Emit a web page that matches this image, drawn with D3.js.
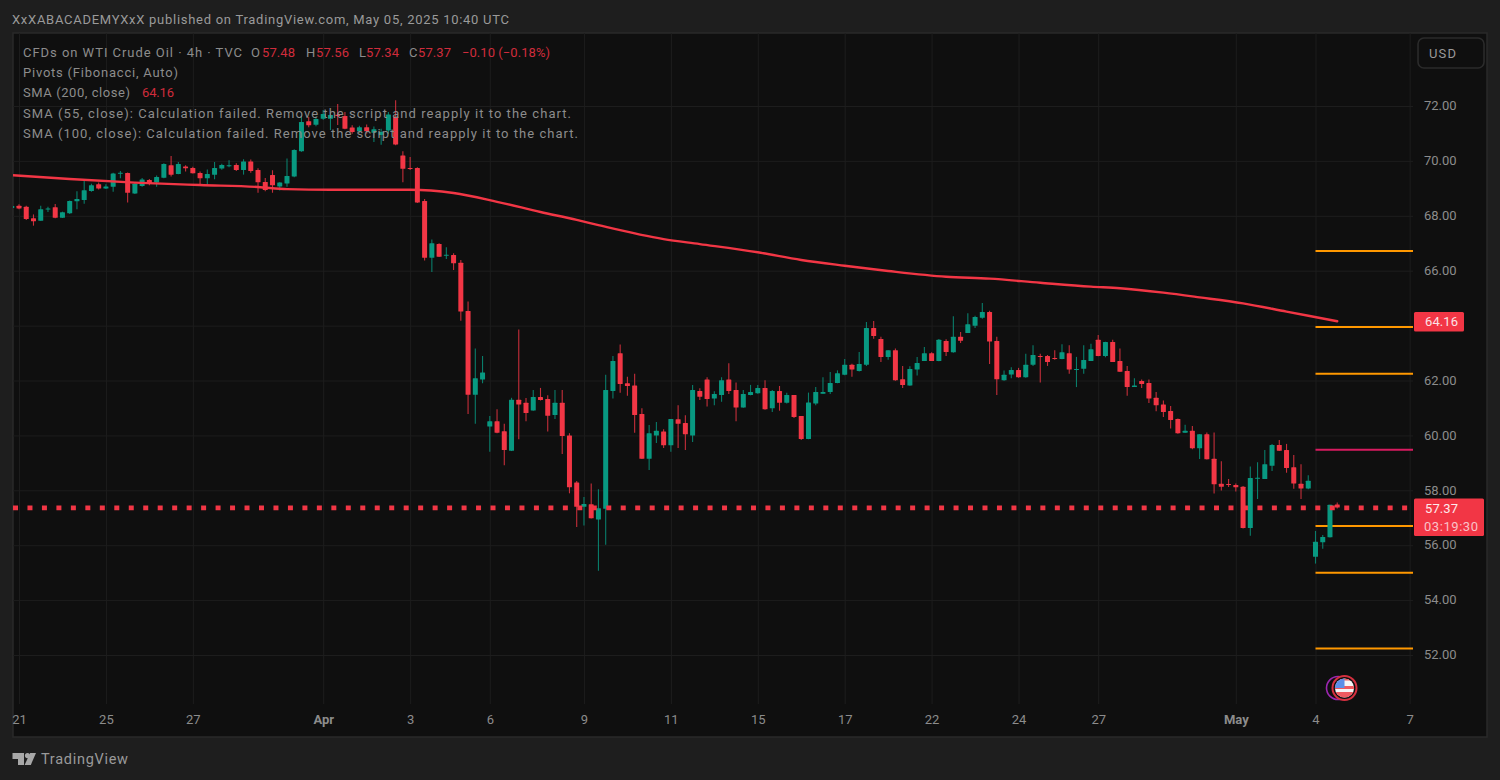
<!DOCTYPE html>
<html><head><meta charset="utf-8">
<script src="https://d3js.org/d3.v7.min.js"></script>
<style>html,body{margin:0;padding:0;background:#1e1e1e;overflow:hidden}svg{display:block}text{font-family:Roboto,"Liberation Sans",sans-serif}</style>
</head><body><div id="chart"></div>
<script>
// Bars run in order; the first bar is only partly visible at the left edge.
const opens=[68.28,
68.37,68.33,67.91,67.82,68.24,68.31,67.93,68.09,68.53,
68.58,68.90,69.15,68.99,69.06,69.55,69.56,68.81,69.09,69.30,
69.21,69.39,69.84,69.52,69.80,69.74,69.56,69.37,69.50,69.72,
69.81,69.85,69.67,69.98,69.67,69.23,69.49,69.07,69.18,69.43,
70.35,71.44,71.32,71.54,71.54,71.68,71.64,71.22,71.08,71.23,
71.03,70.94,71.11,71.60,70.20,69.74,69.74,68.54,66.47,66.97,
66.56,66.57,66.29,64.53,61.48,62.04,60.32,60.52,60.15,59.44,
61.30,61.19,60.91,61.40,61.33,60.74,61.19,60.00,58.28,57.40,
57.49,56.94,57.33,61.62,62.99,61.90,61.82,60.78,59.15,60.00,
60.14,59.64,60.59,60.45,60.00,61.62,62.04,61.34,61.47,62.04,
61.65,61.02,61.47,61.54,61.73,60.99,61.62,61.19,61.47,60.71,
59.87,61.16,61.52,61.58,61.91,62.21,62.57,62.35,62.57,63.91,
63.51,62.86,63.10,62.05,61.82,62.40,62.71,62.99,62.71,63.44,
63.03,63.59,63.73,63.99,64.29,64.50,63.44,62.01,62.22,62.38,
62.12,62.57,62.89,62.89,62.82,62.78,62.99,62.38,62.43,62.71,
63.48,62.89,63.40,62.71,62.35,61.76,61.98,61.91,61.37,61.13,
60.89,60.60,60.10,60.17,59.53,60.04,59.15,58.24,58.23,58.19,
58.13,56.63,58.42,58.41,58.89,59.65,59.47,58.84,58.24,58.07,
55.58,56.11,56.29,57.48];
const highs=[68.39,
68.42,68.37,68.05,68.37,68.33,68.43,68.15,68.56,68.89,
69.28,69.17,69.21,69.15,69.57,69.63,69.58,69.21,69.38,69.34,
69.47,69.91,70.18,69.96,69.84,69.79,69.61,69.69,69.96,69.90,
70.02,69.91,70.06,70.05,69.73,69.38,69.66,69.22,70.09,70.42,
71.65,71.60,71.62,71.85,71.79,72.07,71.78,71.30,71.28,71.33,
71.25,71.17,71.78,72.21,70.35,70.14,69.77,68.61,67.14,67.00,
66.85,66.64,66.39,64.88,63.17,62.89,60.71,60.95,60.42,61.37,
63.86,61.36,61.65,61.73,61.46,61.65,61.65,60.08,58.34,57.76,
58.25,58.04,62.21,62.89,63.31,62.14,62.25,60.99,60.38,60.49,
60.22,60.60,61.10,60.73,61.84,61.72,62.12,61.61,62.12,62.63,
61.93,61.65,61.84,61.84,62.01,61.65,61.80,61.55,61.47,60.71,
61.56,61.76,62.12,62.31,62.37,62.78,62.61,63.04,64.13,64.17,
63.59,63.10,63.17,62.53,62.52,62.86,63.22,63.03,63.51,63.50,
64.34,63.77,64.45,64.36,64.82,64.54,63.59,62.36,62.48,62.46,
62.97,63.28,62.97,62.93,63.10,63.32,63.28,62.86,63.28,63.34,
63.66,63.41,63.48,63.17,62.53,62.08,62.04,62.04,61.58,61.27,
61.07,60.62,60.39,60.34,60.04,60.11,60.11,59.06,58.41,58.25,
58.16,58.87,59.02,59.47,59.69,59.83,59.69,59.29,58.95,58.55,
56.52,56.37,57.47,57.56];
const lows=[68.26,
68.24,67.85,67.64,67.82,68.14,67.91,67.92,68.07,68.24,
68.44,68.88,68.96,68.98,68.88,69.37,68.48,68.79,69.06,69.11,
69.06,69.37,69.43,69.51,69.61,69.54,69.16,69.12,69.33,69.68,
69.77,69.63,69.50,69.57,68.84,68.89,68.84,68.92,69.06,69.40,
70.33,71.23,71.26,71.50,71.13,71.31,71.15,70.99,71.03,70.99,
70.69,70.59,70.99,70.57,69.22,69.67,68.47,66.37,65.95,66.50,
66.43,66.03,64.18,60.78,60.42,61.90,59.40,60.08,58.91,59.43,
59.86,60.52,60.90,61.27,60.14,60.60,59.32,57.89,56.66,56.72,
56.97,55.07,56.02,61.34,61.55,61.44,60.10,59.14,58.74,59.72,
59.54,59.40,59.54,59.47,59.76,61.29,61.05,61.10,61.23,61.51,
60.52,61.01,61.46,61.52,60.93,60.85,60.90,61.16,60.63,59.83,
59.86,61.10,61.52,61.51,61.90,62.19,62.14,62.33,62.53,63.52,
62.67,62.76,61.99,61.73,61.81,62.18,62.71,62.71,62.70,62.89,
63.01,63.37,63.73,63.91,64.25,62.60,61.47,61.99,62.08,62.10,
62.10,62.53,61.93,62.53,62.76,62.77,62.25,61.76,62.25,62.71,
62.88,62.85,62.67,62.31,61.44,61.76,61.73,61.18,60.88,60.67,
60.25,60.06,60.10,59.50,59.14,59.12,57.88,57.99,58.12,57.96,
56.61,56.34,57.68,58.41,58.70,59.43,58.64,58.06,57.68,58.04,
55.33,55.87,56.28,57.34];
const closes=[68.36,
68.27,67.88,67.80,68.24,68.27,67.93,68.13,68.54,68.61,
68.93,69.11,68.99,69.07,69.54,69.57,68.84,69.17,69.32,69.18,
69.41,69.89,69.50,69.89,69.73,69.55,69.37,69.52,69.74,69.85,
69.84,69.67,69.98,69.63,69.22,68.94,69.11,69.21,69.45,70.40,
71.42,71.30,71.53,71.71,71.67,71.64,71.17,71.05,71.23,71.08,
71.15,71.05,71.69,70.60,69.71,69.72,68.48,66.47,67.00,66.51,
66.58,66.27,64.51,61.48,62.08,62.29,60.52,60.10,59.47,61.30,
61.13,60.82,61.40,61.29,60.72,61.19,59.98,58.11,57.40,57.50,
56.98,57.35,61.65,62.71,61.87,61.80,60.74,59.15,60.08,60.17,
59.64,60.60,60.42,60.04,61.65,61.41,61.33,61.51,62.01,61.62,
61.02,61.51,61.58,61.73,60.95,61.62,61.19,61.47,60.67,59.87,
61.20,61.58,61.58,61.91,62.26,62.57,62.40,62.60,63.91,63.62,
62.86,63.10,62.01,61.84,62.42,62.64,62.99,62.71,63.48,63.04,
63.59,63.45,64.05,64.31,64.50,63.42,62.05,62.21,62.38,62.12,
62.57,62.93,62.86,62.67,62.78,63.03,62.40,62.42,62.75,63.14,
62.89,63.40,62.67,62.32,61.76,61.82,61.87,61.34,61.10,60.85,
60.56,60.08,60.17,59.53,60.04,59.13,58.22,58.13,58.19,58.11,
56.63,58.45,58.46,58.95,59.65,59.44,58.81,58.25,58.07,58.35,
56.13,56.30,57.47,57.37];

// SMA(200) at these bar numbers
const smaBars=[0,8,17,26,34,38,44,55,61,67,73,78,81,90,95,103,109,115,121,129,135,142,149,153,159,164,170,176,183];
const smaValues=[69.48,69.34,69.21,69.12,69.05,68.97,68.95,68.95,68.83,68.51,68.14,67.85,67.66,67.15,66.97,66.67,66.39,66.18,65.99,65.78,65.71,65.56,65.42,65.36,65.20,65.03,64.81,64.51,64.16];

// 64.00 has a grid line, but its label sits behind the SMA price tag in the reference
const priceGridLevels=[52,54,56,58,60,62,64,66,68,70,72];
const priceTickLabels=["52.00","54.00","56.00","58.00","60.00","62.00","","66.00","68.00","70.00","72.00"];
const dateTickBars=[1,13,25,43,55,66,79,91,103,115,127,139,150,169,180,193];
const dateTickLabels=["21","25","27","Apr","3","6","9","11","15","17","22","24","27","May","4","7"];
const boldDateLabels=["Apr","May"];
const pivotLevels=[66.72,63.95,62.25,59.48,56.70,55.00,52.24];
const pivotColors=["#ff9800","#ff9800","#ff9800","#d81b60","#ff9800","#ff9800","#ff9800"];
const pivotStartBar=180, pivotEndBar=193.5;
const lastPrice=57.37, lastSma=64.16;

const W=1500,H=780;
const pane={l:13,t:33,r:1487,b:737,plotR:1413,plotB:704};
const RED="#f23645",GREEN="#089981",GRID="#1d1d1d",TXT="#8c8c8c";

const x=d3.scaleLinear().domain([1,183]).range([19,19+182*7.243]);
const y=d3.scaleLinear().domain([72,52]).range([106,655]);

const svg=d3.select("#chart").append("svg").attr("width",W).attr("height",H).attr("viewBox",`0 0 ${W} ${H}`);
svg.append("rect").attr("width",W).attr("height",H).attr("fill","#1e1e1e");
svg.append("rect").attr("x",pane.l).attr("y",pane.t).attr("width",pane.r-pane.l).attr("height",pane.b-pane.t)
  .attr("fill","#0f0f0f").attr("stroke","#2a2a2a").attr("stroke-width",1.5);
const defs=svg.append("defs");
defs.append("clipPath").attr("id","plot").append("rect").attr("x",pane.l).attr("y",pane.t).attr("width",pane.plotR-pane.l).attr("height",pane.plotB-pane.t);

// grid + axis labels through d3 axes
const xAxis=d3.axisBottom(x).tickValues(dateTickBars).tickSizeInner(-(pane.plotB-pane.t)).tickSizeOuter(0)
  .tickPadding(11).tickFormat((d,i)=>dateTickLabels[i]);
const gx=svg.append("g").attr("transform",`translate(0,${pane.plotB})`).call(xAxis);
gx.select(".domain").remove();
gx.selectAll("line").attr("stroke",GRID);
gx.selectAll("text").attr("fill",TXT).attr("font-size",13)
  .attr("font-weight",(d,i)=>boldDateLabels.includes(dateTickLabels[i])?700:400)
  .attr("dy","0.71em");

const yAxis=d3.axisRight(y).tickValues(priceGridLevels).tickSizeInner(-(pane.plotR-pane.l)).tickSizeOuter(0)
  .tickPadding(11).tickFormat((d,i)=>priceTickLabels[i]);
const gy=svg.append("g").attr("transform",`translate(${pane.plotR},0)`).call(yAxis);
gy.select(".domain").remove();
gy.selectAll("line").attr("stroke",GRID);
gy.selectAll("text").attr("fill",TXT).attr("font-size",13).attr("dy","0.29em");
gy.selectAll("text").filter(function(){return !this.textContent;}).remove();

const plot=svg.append("g").attr("clip-path","url(#plot)");

// pivots
plot.append("g").selectAll("line").data(pivotLevels).join("line")
  .attr("x1",x(pivotStartBar)).attr("x2",x(pivotEndBar))
  .attr("y1",d=>y(d)).attr("y2",d=>y(d))
  .attr("stroke",(d,i)=>pivotColors[i]).attr("stroke-width",2);

// candles
const bars=d3.range(opens.length);
const gc=plot.append("g");
gc.selectAll("line").data(bars).join("line")
  .attr("x1",i=>x(i)).attr("x2",i=>x(i))
  .attr("y1",i=>y(highs[i])).attr("y2",i=>y(lows[i]))
  .attr("stroke",i=>closes[i]>=opens[i]?GREEN:RED).attr("stroke-width",1.1).attr("stroke-opacity",0.8);
gc.selectAll("rect").data(bars).join("rect")
  .attr("x",i=>x(i)-2.5).attr("width",5)
  .attr("y",i=>y(Math.max(opens[i],closes[i])))
  .attr("height",i=>Math.max(1,Math.abs(y(opens[i])-y(closes[i]))))
  .attr("rx",0.5)
  .attr("fill",i=>closes[i]>=opens[i]?GREEN:RED);

// SMA
plot.append("path").datum(smaBars.map((b,i)=>[b,smaValues[i]]))
  .attr("fill","none").attr("stroke",RED).attr("stroke-width",2.4).attr("stroke-linecap","round")
  .attr("d",d3.line().x(d=>x(d[0])).y(d=>y(d[1])).curve(d3.curveMonotoneX));

// last price dotted line
plot.append("line").attr("x1",pane.l).attr("x2",pane.plotR).attr("y1",y(lastPrice)+0.3).attr("y2",y(lastPrice)+0.3)
  .attr("stroke",RED).attr("stroke-width",4.6).attr("stroke-dasharray","5 9.47");

// text helper
function T(s,xp,yp,o={}){
  const t=svg.append("text").attr("x",xp).attr("y",yp+1.3).attr("fill",o.fill||TXT).attr("font-size",o.size||13)
    .attr("dominant-baseline","middle").text(s);
  if(o.len){t.attr("textLength",o.len).attr("lengthAdjust","spacing");}
  if(o.anchor)t.attr("text-anchor",o.anchor);
  if(o.weight)t.attr("font-weight",o.weight);
  return t;
}
const RT="#cf2c3c";
T("XxXABACADEMYXxX published on TradingView.com, May 05, 2025 10:40 UTC",12,19,{len:497,fill:"#9a9a9a"});
T("CFDs on WTI Crude Oil · 4h · TVC",23,52,{len:219});
T("O",251,52,{});T("57.48",262,52,{fill:RT,len:33});
T("H",306,52,{});T("57.56",316,52,{fill:RT,len:33});
T("L",359,52,{});T("57.34",366,52,{fill:RT,len:33});
T("C",409,52,{});T("57.37",418,52,{fill:RT,len:33});
T("−0.10 (−0.18%)",462,52,{fill:RT,len:88});
T("Pivots (Fibonacci, Auto)",23,72,{len:155});
T("SMA (200, close)",23,92,{len:107});
T("64.16",142,92,{fill:RT,len:32});
T("SMA (55, close): Calculation failed. Remove the script and reapply it to the chart.",23,113,{len:548});
T("SMA (100, close): Calculation failed. Remove the script and reapply it to the chart.",23,133,{len:555});

// USD button
svg.append("rect").attr("x",1418).attr("y",38).attr("width",66).attr("height",30).attr("rx",6)
  .attr("fill","#0f0f0f").attr("stroke","#2b2b2b").attr("stroke-width",1.6);
T("USD",1429,53,{fill:"#9a9a9a",len:27});

// price tags
svg.append("rect").attr("x",1414).attr("y",312).attr("width",50).attr("height",19.5).attr("rx",1.5).attr("fill",RED);
T("64.16",1425,321.5,{fill:"#fbe3e5",len:33});
svg.append("rect").attr("x",1414).attr("y",498.5).attr("width",70).attr("height",37.5).attr("rx",1.5).attr("fill",RED);
T("57.37",1425,508,{fill:"#fdeaec",len:33});
T("03:19:30",1424,526,{fill:"#f9c2c8",len:54});

// economic-event flag
const ev=svg.append("g");
ev.append("circle").attr("cx",1338).attr("cy",688).attr("r",11.5).attr("fill","#0f0f0f").attr("stroke","#9c27b0").attr("stroke-width",1.6);
ev.append("circle").attr("cx",1344.5).attr("cy",688).attr("r",12).attr("fill","#0f0f0f").attr("stroke","#d5303f").attr("stroke-width",2);
defs.append("clipPath").attr("id","flag").append("circle").attr("cx",1344.5).attr("cy",688).attr("r",9.6);
const fl=ev.append("g").attr("clip-path","url(#flag)");
fl.append("rect").attr("x",1334).attr("y",678).attr("width",21).attr("height",20).attr("fill","#f5f5f5");
[684.4,690.4].forEach(v=>{fl.append("rect").attr("x",1334).attr("y",v+1.6).attr("width",21).attr("height",3).attr("fill","#ee5a5f");});
fl.append("rect").attr("x",1334).attr("y",694).attr("width",21).attr("height",4).attr("fill","#ee5a5f");
fl.append("rect").attr("x",1334).attr("y",678).attr("width",21).attr("height",2.5).attr("fill","#ee5a5f");
fl.append("rect").attr("x",1334).attr("y",678).attr("width",10.5).attr("height",10).attr("fill","#5b8fe8");

// TradingView logo
const logo=svg.append("g").attr("fill","#a8a8a8");
logo.append("path").attr("d","M12.5 753H24V765H18V759H12.5Z");
logo.append("circle").attr("cx",27.5).attr("cy",755.6).attr("r",2.6);
logo.append("path").attr("d","M30.2 753H36L30.8 765H24.6Z");
T("TradingView",41,759,{fill:"#9a9a9a",size:14.5,len:87});
</script></body></html>
